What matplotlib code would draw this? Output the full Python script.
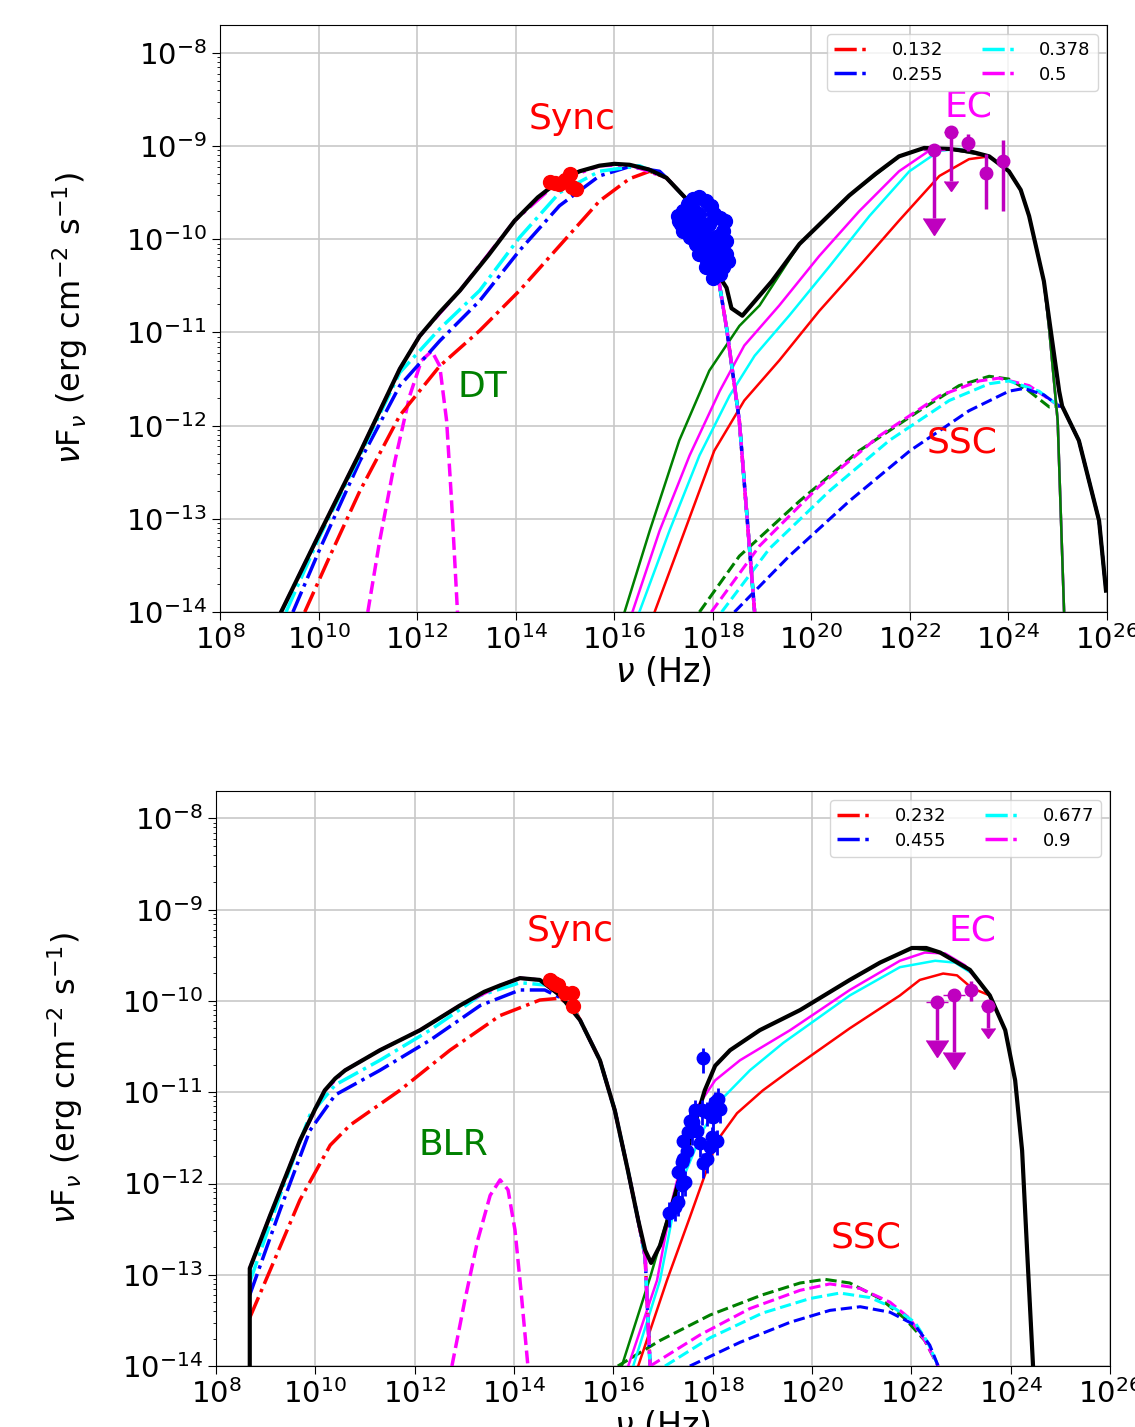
import numpy as np
import matplotlib.pyplot as plt

# all values are log10(nu / Hz) and log10(nuFnu / erg cm^-2 s^-1)

# ---------------- top panel ----------------
t_tot_x = [9.24, 9.99, 10.84, 11.65, 12.05, 12.45, 12.87, 13.45, 13.98, 14.45, 14.89, 15.30, 15.70, 16.0, 16.31,
           16.70, 17.06, 17.47, 17.83, 18.10, 18.28, 18.38, 18.60, 19.20, 19.76, 20.77, 21.30, 21.78, 22.29, 22.80,
           23.25, 23.61, 24.01, 24.25, 24.42, 24.72, 25.03, 25.09, 25.43, 25.84, 25.98]
t_tot_y = [-14.0, -13.19, -12.29, -11.39, -11.04, -10.79, -10.55, -10.17, -9.80, -9.55, -9.37, -9.27, -9.21,
           -9.19, -9.20, -9.25, -9.34, -9.57, -9.91, -10.37, -10.52, -10.74, -10.82, -10.45, -10.05, -9.53, -9.30,
           -9.11, -9.02, -9.03, -9.06, -9.11, -9.27, -9.47, -9.75, -10.45, -11.63, -11.79, -12.16, -13.02, -13.77]

t_dt_x = [11.0, 11.24, 11.55, 11.85, 12.09, 12.30, 12.46, 12.60, 12.70, 12.82]
t_dt_y = [-14.0, -13.24, -12.38, -11.68, -11.30, -11.20, -11.36, -11.95, -12.81, -14.0]

# synchrotron tail shared by all sync curves
t_tail_x = [17.06, 17.47, 17.83, 18.10, 18.28, 18.54, 18.85]
t_tail_y = [-9.34, -9.57, -9.91, -10.37, -10.95, -11.95, -14.0]

t_syn_red_x = [9.72, 10.23, 10.84, 11.65, 12.46, 13.27, 14.08, 14.89, 15.70, 16.31, 16.72]
t_syn_red_y = [-14.0, -13.40, -12.70, -11.89, -11.36, -10.98, -10.55, -10.07, -9.59, -9.35, -9.27]
t_syn_blue_x = [9.48, 10.03, 10.84, 11.65, 12.46, 13.27, 14.08, 14.89, 15.70, 16.31, 16.92]
t_syn_blue_y = [-14.0, -13.32, -12.38, -11.57, -11.09, -10.66, -10.12, -9.64, -9.32, -9.22, -9.27]
t_syn_cyan_x = [9.34, 10.03, 10.84, 11.65, 12.46, 13.27, 14.08, 14.89, 15.70, 16.51]
t_syn_cyan_y = [-14.0, -13.18, -12.32, -11.43, -10.96, -10.55, -9.98, -9.50, -9.27, -9.21]
t_syn_mag_x = [9.24, 9.99, 10.84, 11.65, 12.05, 12.87, 13.98, 14.89, 15.70, 16.31]
t_syn_mag_y = [-14.0, -13.19, -12.29, -11.39, -11.04, -10.55, -9.80, -9.37, -9.21, -9.20]

# EC falling branch (shared)
t_ecfall_x = [23.61, 24.01, 24.25, 24.42, 24.72, 24.83, 25.00, 25.13]
t_ecfall_y = [-9.11, -9.27, -9.47, -9.75, -10.45, -10.98, -11.95, -14.0]

t_ec_green_x = [16.21, 16.72, 17.32, 17.93, 18.54, 18.95, 19.76, 20.77, 21.78, 22.29, 22.80]
t_ec_green_y = [-14.0, -13.13, -12.16, -11.41, -10.93, -10.71, -10.05, -9.53, -9.11, -9.02, -9.03]
t_ec_mag_x = [16.37, 16.92, 17.53, 18.14, 18.64, 19.35, 20.16, 20.97, 21.78, 22.39, 22.80]
t_ec_mag_y = [-14.0, -13.13, -12.32, -11.63, -11.14, -10.71, -10.18, -9.70, -9.27, -9.05, -9.03]
t_ec_cyan_x = [16.51, 17.12, 17.73, 18.34, 18.85, 19.55, 20.37, 21.18, 21.99, 22.60, 23.0]
t_ec_cyan_y = [-14.0, -13.13, -12.32, -11.68, -11.25, -10.82, -10.29, -9.75, -9.27, -9.05, -9.03]
t_ec_red_x = [16.82, 17.43, 18.03, 18.64, 19.35, 20.16, 20.97, 21.78, 22.60, 23.20]
t_ec_red_y = [-14.0, -13.13, -12.27, -11.73, -11.30, -10.77, -10.29, -9.80, -9.32, -9.14]

# SSC tail (shared)
t_ssctail_x = [25.03, 25.09, 25.43, 25.84, 25.98]
t_ssctail_y = [-11.79, -11.79, -12.16, -13.02, -13.77]

t_ssc_green_x = [17.73, 18.54, 19.76, 20.97, 22.19, 23.0, 23.61, 24.01, 24.42, 24.83]
t_ssc_green_y = [-14.0, -13.40, -12.81, -12.27, -11.84, -11.57, -11.47, -11.50, -11.63, -11.80]
t_ssc_mag_x = [17.97, 18.95, 20.16, 21.38, 22.60, 23.41, 23.81, 24.42]
t_ssc_mag_y = [-14.0, -13.29, -12.65, -12.11, -11.68, -11.52, -11.49, -11.57]
t_ssc_cyan_x = [18.18, 19.15, 20.37, 21.58, 22.80, 23.61, 24.01, 24.62]
t_ssc_cyan_y = [-14.0, -13.32, -12.70, -12.16, -11.73, -11.55, -11.52, -11.63]
t_ssc_blue_x = [18.44, 19.55, 20.77, 22.0, 23.20, 24.01, 24.32, 24.72]
t_ssc_blue_y = [-14.0, -13.40, -12.81, -12.27, -11.84, -11.63, -11.60, -11.67]

t_opt_x = [14.69, 14.80, 14.89, 15.00, 15.10, 15.15, 15.22]
t_opt_y = [-9.38, -9.40, -9.41, -9.36, -9.30, -9.44, -9.46]

t_xr_x = [17.325, 17.39, 17.49, 17.595, 17.73, 17.865, 17.97, 18.03, 18.14, 18.24, 17.39, 17.53, 17.66, 17.80,
          17.93, 17.73, 17.53, 17.66, 17.80, 17.93, 18.07, 18.20, 18.27, 17.73, 17.87, 18.0, 18.14, 18.27, 18.30,
          17.87, 18.03, 18.20, 18.0, 18.14, 17.29, 17.36, 17.45, 17.60, 17.62, 17.85, 17.98, 18.10]
t_xr_y = [-9.80, -9.70, -9.62, -9.57, -9.55, -9.59, -9.64, -9.73, -9.77, -9.80, -9.91, -9.98, -9.91, -9.87,
          -9.84, -9.73, -9.77, -10.05, -10.09, -10.05, -9.98, -9.91, -10.02, -10.16, -10.20, -10.23, -10.20, -10.16,
          -10.23, -10.30, -10.34, -10.30, -10.41, -10.37, -9.75, -9.84, -9.85, -9.68, -9.80, -9.95, -10.12, -10.08]

t_gul_x = [22.49, 22.84]
t_gul_y = [-9.04, -8.85]
t_gul_end = [-9.77, -9.37]
t_gdet_x = [23.18, 23.55, 23.89]
t_gdet_y = [-8.97, -9.29, -9.16]
t_gdet_lo = [-9.05, -9.67, -9.70]
t_gdet_hi = [-8.87, -9.08, -8.93]

t_labels = ["0.132", "0.255", "0.378", "0.5"]

# ---------------- bottom panel ----------------
b_tot_x = [8.68, 8.68, 9.09, 9.69, 10.0, 10.19, 10.40, 10.60, 11.30, 12.11, 12.91, 13.40, 13.72, 14.12, 14.52,
           14.93, 15.33, 15.73, 16.03, 16.29, 16.50, 16.64, 16.76, 16.94, 17.24, 17.54, 17.84, 18.05, 18.35, 18.95,
           19.76, 20.76, 21.37, 22.01, 22.30, 22.58, 23.18, 23.58, 23.89, 24.09, 24.23, 24.33, 24.45]
b_tot_y = [-14.5, -12.93, -12.35, -11.53, -11.18, -10.98, -10.85, -10.76, -10.54, -10.32, -10.05, -9.90, -9.83,
           -9.75, -9.77, -9.94, -10.21, -10.65, -11.20, -11.85, -12.40, -12.73, -12.87, -12.68, -12.13, -11.53,
           -10.98, -10.71, -10.54, -10.32, -10.10, -9.77, -9.58, -9.42, -9.42, -9.47, -9.66, -9.94, -10.32, -10.87,
           -11.64, -12.73, -14.0]

b_blr_x = [12.75, 13.01, 13.27, 13.52, 13.72, 13.88, 14.02, 14.14, 14.28]
b_blr_y = [-14.0, -13.28, -12.62, -12.13, -11.96, -12.07, -12.51, -13.17, -14.0]

b_tail_x = [15.33, 15.73, 16.03, 16.29, 16.50, 16.64, 16.74]
b_tail_y = [-10.21, -10.65, -11.20, -11.85, -12.40, -12.80, -14.0]

b_syn_red_x = [8.68, 9.09, 9.69, 10.30, 10.70, 11.70, 12.71, 13.72, 14.52, 14.93, 15.23]
b_syn_red_y = [-13.47, -12.95, -12.18, -11.58, -11.36, -10.98, -10.54, -10.16, -9.99, -9.97, -10.10]
b_syn_blue_x = [8.68, 9.29, 9.89, 10.40, 11.30, 12.31, 13.32, 14.12, 14.62, 15.03]
b_syn_blue_y = [-13.22, -12.29, -11.42, -11.03, -10.76, -10.43, -10.05, -9.88, -9.88, -9.99]
b_syn_cyan_x = [8.68, 9.29, 9.89, 10.40, 11.30, 12.31, 13.32, 14.12, 14.72, 15.03]
b_syn_cyan_y = [-13.08, -12.13, -11.25, -10.92, -10.65, -10.32, -9.94, -9.80, -9.83, -9.95]
b_syn_mag_x = [8.68, 9.09, 9.69, 10.19, 10.60, 11.30, 12.11, 12.91, 13.72, 14.12, 14.52, 14.93]
b_syn_mag_y = [-12.93, -12.35, -11.53, -10.98, -10.76, -10.54, -10.32, -10.05, -9.83, -9.75, -9.77, -9.94]

b_ecfall_x = [23.58, 23.89, 24.09, 24.23, 24.33, 24.45]
b_ecfall_y = [-9.94, -10.32, -10.87, -11.64, -12.73, -14.0]

b_ec_green_x = [16.17, 16.74, 17.14, 17.54, 17.84, 18.05, 18.35, 18.95, 19.76, 20.76, 21.37, 22.01, 22.58, 23.18]
b_ec_green_y = [-14.0, -13.03, -12.29, -11.53, -10.98, -10.71, -10.54, -10.32, -10.10, -9.77, -9.58, -9.42,
                -9.47, -9.66]
b_ec_mag_x = [16.30, 16.88, 17.18, 17.64, 18.05, 18.55, 19.56, 20.76, 21.77, 22.27, 22.68, 23.08]
b_ec_mag_y = [-14.0, -13.06, -12.19, -11.20, -10.87, -10.65, -10.32, -9.88, -9.56, -9.47, -9.48, -9.61]
b_ec_cyan_x = [16.40, 16.94, 17.28, 17.80, 18.21, 18.75, 19.42, 20.76, 21.77, 22.48, 22.88, 23.28]
b_ec_cyan_y = [-14.0, -13.06, -12.11, -11.42, -11.06, -10.76, -10.46, -9.94, -9.63, -9.56, -9.58, -9.72]
b_ec_red_x = [16.50, 17.08, 17.54, 18.09, 18.49, 19.01, 19.56, 20.76, 21.77, 22.17, 22.64, 22.92, 23.22]
b_ec_red_y = [-14.0, -13.06, -12.37, -11.53, -11.23, -10.98, -10.76, -10.30, -9.94, -9.77, -9.70, -9.72, -9.86]

b_ssc_green_x = [16.09, 16.94, 17.95, 19.0, 19.76, 20.26, 20.76, 21.37, 21.87, 22.27, 22.54]
b_ssc_green_y = [-14.0, -13.72, -13.44, -13.22, -13.09, -13.05, -13.09, -13.26, -13.48, -13.72, -14.0]
b_ssc_mag_x = [16.74, 17.74, 18.75, 19.76, 20.36, 20.97, 21.57, 21.97, 22.27, 22.54]
b_ssc_mag_y = [-14.0, -13.66, -13.37, -13.17, -13.10, -13.15, -13.30, -13.48, -13.72, -14.0]
b_ssc_cyan_x = [17.04, 17.95, 19.0, 19.96, 20.56, 21.17, 21.67, 22.07, 22.33, 22.54]
b_ssc_cyan_y = [-14.0, -13.69, -13.42, -13.26, -13.20, -13.25, -13.37, -13.52, -13.74, -14.0]
b_ssc_blue_x = [17.54, 18.55, 19.56, 20.36, 20.97, 21.57, 22.07, 22.37, 22.54]
b_ssc_blue_y = [-14.0, -13.74, -13.52, -13.39, -13.35, -13.41, -13.55, -13.77, -14.0]

b_opt_x = [14.72, 14.80, 14.89, 15.03, 15.17, 15.19]
b_opt_y = [-9.77, -9.80, -9.83, -9.91, -9.91, -10.06]

b_xr_x = [17.13, 17.24, 17.31, 17.38, 17.44, 17.31, 17.38, 17.41, 17.48, 17.41, 17.51, 17.58, 17.61, 17.54,
          17.64, 17.78, 17.88, 17.95, 18.05, 18.11, 18.15, 18.01, 17.98, 18.08, 17.95, 17.88, 17.81, 17.74, 17.68,
          17.80]
b_xr_y = [-12.32, -12.26, -12.20, -12.02, -11.98, -11.87, -11.76, -11.73, -11.64, -11.53, -11.44, -11.42, -11.33,
          -11.31, -11.20, -11.20, -11.22, -11.18, -11.11, -11.07, -11.18, -11.27, -11.49, -11.53, -11.60, -11.73,
          -11.78, -11.56, -11.42, -10.63]

b_gul_x = [22.51, 22.86, 23.55]
b_gul_y = [-10.01, -9.94, -10.06]
b_gul_end = [-10.43, -10.56, -10.30]
b_gdet_x = [23.21]
b_gdet_y = [-9.88]
b_gdet_lo = [-10.00]
b_gdet_hi = [-9.78]

b_labels = ["0.232", "0.455", "0.677", "0.9"]


def L(v):
    return 10.0 ** np.array(v)


def curve(ax, x, y, *args, **kw):
    ax.plot(L(x), L(y), *args, **kw)


def setup(ax):
    ax.set_xscale('log')
    ax.set_yscale('log')
    ax.set_xlim(1e8, 1e26)
    ax.set_ylim(1e-14, 10 ** -7.7)
    ax.set_xticks([10.0 ** k for k in range(8, 27, 2)])
    ax.set_yticks([10.0 ** k for k in range(-14, -7)])
    ax.tick_params(axis='both', which='major', labelsize=21, length=6)
    ax.grid(True, which='major', color='#c8c8c8', lw=1.2)
    ax.set_axisbelow(True)
    ax.set_xlabel(r'$\nu$ (Hz)', fontsize=24, labelpad=0)
    ax.set_ylabel(r'$\nu$F$_\nu$ (erg cm$^{-2}$ s$^{-1}$)', fontsize=23)
    ax.yaxis.set_label_coords(-0.147, 0.5)


def upper_limits(ax, xs, ys, ends, caps):
    for x, y, e, c in zip(xs, ys, ends, caps):
        ax.errorbar([L(x)], [L(y)], yerr=[[L(y) - L(e)], [0]], uplims=True, fmt='o', color='m',
                    ms=9, lw=2.5, capsize=c, zorder=6)


def legend(ax):
    ax.legend(loc='upper right', ncol=2, fontsize=13, handlelength=1.9, handletextpad=1.3,
              columnspacing=2.1, labelspacing=0.35, borderpad=0.4)


fig = plt.figure(figsize=(11.35, 14.27), dpi=100)
ax1 = fig.add_axes([0.1938, 0.5711, 0.7815, 0.4114])
ax2 = fig.add_axes([0.1903, 0.0427, 0.7877, 0.4030])

# ---------- top ----------
setup(ax1)
curve(ax1, t_dt_x, t_dt_y, '--', color='magenta', lw=2.5)
curve(ax1, t_ssc_green_x + t_ssctail_x, t_ssc_green_y + t_ssctail_y, '--', color='green', lw=2.2)
curve(ax1, t_ssc_mag_x + t_ssctail_x, t_ssc_mag_y + t_ssctail_y, '--', color='magenta', lw=2.2)
curve(ax1, t_ssc_cyan_x + t_ssctail_x, t_ssc_cyan_y + t_ssctail_y, '--', color='cyan', lw=2.2)
curve(ax1, t_ssc_blue_x + t_ssctail_x, t_ssc_blue_y + t_ssctail_y, '--', color='blue', lw=2.2)
curve(ax1, t_ec_red_x + t_ecfall_x, t_ec_red_y + t_ecfall_y, '-', color='red', lw=1.8)
curve(ax1, t_ec_cyan_x + t_ecfall_x, t_ec_cyan_y + t_ecfall_y, '-', color='cyan', lw=1.8)
curve(ax1, t_ec_mag_x + t_ecfall_x, t_ec_mag_y + t_ecfall_y, '-', color='magenta', lw=1.8)
curve(ax1, t_ec_green_x + t_ecfall_x, t_ec_green_y + t_ecfall_y, '-', color='green', lw=1.8)
curve(ax1, t_syn_red_x + t_tail_x, t_syn_red_y + t_tail_y, '-.', color='red', lw=2.5, label=t_labels[0])
curve(ax1, t_syn_blue_x + t_tail_x, t_syn_blue_y + t_tail_y, '-.', color='blue', lw=2.5, label=t_labels[1])
curve(ax1, t_syn_cyan_x + t_tail_x, t_syn_cyan_y + t_tail_y, '-.', color='cyan', lw=2.5, label=t_labels[2])
curve(ax1, t_syn_mag_x + t_tail_x, t_syn_mag_y + t_tail_y, '-.', color='magenta', lw=2.5, label=t_labels[3])
curve(ax1, t_tot_x, t_tot_y, '-', color='black', lw=3)

ax1.errorbar(L(t_xr_x), L(t_xr_y), yerr=L(t_xr_y) * 0.15, fmt='o', color='blue', ms=10, lw=2, zorder=5)
ax1.plot(L(t_opt_x), L(t_opt_y), 'o', color='red', ms=10, zorder=5)
upper_limits(ax1, t_gul_x, t_gul_y, t_gul_end, [8, 5])
ax1.errorbar(L(t_gdet_x), L(t_gdet_y),
             yerr=[L(t_gdet_y) - L(t_gdet_lo), L(t_gdet_hi) - L(t_gdet_y)],
             fmt='o', color='m', ms=9, lw=2.5, zorder=6)

ax1.text(L(15.14), L(-8.71), 'Sync', color='red', fontsize=26, ha='center', va='center')
ax1.text(L(23.20), L(-8.58), 'EC', color='magenta', fontsize=26, ha='center', va='center')
ax1.text(L(13.33), L(-11.58), 'DT', color='green', fontsize=26, ha='center', va='center')
ax1.text(L(23.06), L(-12.18), 'SSC', color='red', fontsize=26, ha='center', va='center')
legend(ax1)

# ---------- bottom ----------
setup(ax2)
curve(ax2, b_blr_x, b_blr_y, '--', color='magenta', lw=2.5)
curve(ax2, b_ssc_green_x, b_ssc_green_y, '--', color='green', lw=2.2)
curve(ax2, b_ssc_mag_x, b_ssc_mag_y, '--', color='magenta', lw=2.2)
curve(ax2, b_ssc_cyan_x, b_ssc_cyan_y, '--', color='cyan', lw=2.2)
curve(ax2, b_ssc_blue_x, b_ssc_blue_y, '--', color='blue', lw=2.2)
curve(ax2, b_ec_red_x + b_ecfall_x, b_ec_red_y + b_ecfall_y, '-', color='red', lw=1.8)
curve(ax2, b_ec_cyan_x + b_ecfall_x, b_ec_cyan_y + b_ecfall_y, '-', color='cyan', lw=1.8)
curve(ax2, b_ec_mag_x + b_ecfall_x, b_ec_mag_y + b_ecfall_y, '-', color='magenta', lw=1.8)
curve(ax2, b_ec_green_x + b_ecfall_x, b_ec_green_y + b_ecfall_y, '-', color='green', lw=1.8)
curve(ax2, b_syn_red_x + b_tail_x, b_syn_red_y + b_tail_y, '-.', color='red', lw=2.5, label=b_labels[0])
curve(ax2, b_syn_blue_x + b_tail_x, b_syn_blue_y + b_tail_y, '-.', color='blue', lw=2.5, label=b_labels[1])
curve(ax2, b_syn_cyan_x + b_tail_x, b_syn_cyan_y + b_tail_y, '-.', color='cyan', lw=2.5, label=b_labels[2])
curve(ax2, b_syn_mag_x + b_tail_x, b_syn_mag_y + b_tail_y, '-.', color='magenta', lw=2.5, label=b_labels[3])
curve(ax2, b_tot_x, b_tot_y, '-', color='black', lw=3)

ax2.errorbar(L(b_xr_x), L(b_xr_y), yerr=L(b_xr_y) * 0.3, fmt='o', color='blue', ms=9, lw=2, zorder=5)
ax2.plot(L(b_opt_x), L(b_opt_y), 'o', color='red', ms=10, zorder=5)
upper_limits(ax2, b_gul_x, b_gul_y, b_gul_end, [8, 8, 5])
ax2.errorbar(L(b_gdet_x), L(b_gdet_y),
             yerr=[L(b_gdet_y) - L(b_gdet_lo), L(b_gdet_hi) - L(b_gdet_y)],
             fmt='o', color='m', ms=9, lw=2.5, zorder=6)

ax2.text(L(15.13), L(-9.23), 'Sync', color='red', fontsize=26, ha='center', va='center')
ax2.text(L(23.24), L(-9.23), 'EC', color='magenta', fontsize=26, ha='center', va='center')
ax2.text(L(12.77), L(-11.58), 'BLR', color='green', fontsize=26, ha='center', va='center')
ax2.text(L(21.09), L(-12.59), 'SSC', color='red', fontsize=26, ha='center', va='center')
legend(ax2)

fig.savefig('out.png', dpi=100)
